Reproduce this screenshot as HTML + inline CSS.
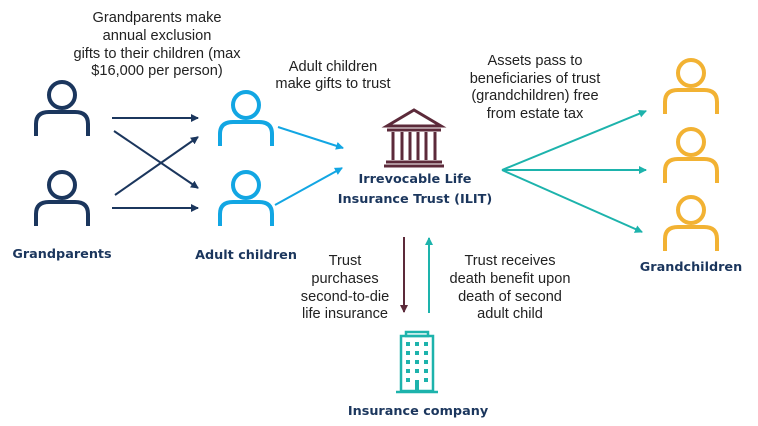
<!DOCTYPE html>
<html><head><meta charset="utf-8"><style>
body{margin:0;background:#fff;width:758px;height:426px;overflow:hidden;font-family:"Liberation Sans",sans-serif}
svg{position:absolute;left:0;top:0}
</style></head><body>
<svg width="758" height="426" viewBox="0 0 758 426">
<defs>
<g id="p" fill="none" stroke-width="4">
<circle cx="0" cy="0" r="13"/>
<path d="M-26,41 V29 Q-26,17 -13,17 H13 Q26,17 26,29 V41"/>
</g>
<marker id="an" markerWidth="8" markerHeight="8" refX="7" refY="4" orient="auto" markerUnits="userSpaceOnUse"><path d="M0,0 L8,4 L0,8z" fill="#1b365d"/></marker>
<marker id="ab" markerWidth="8" markerHeight="8" refX="7" refY="4" orient="auto" markerUnits="userSpaceOnUse"><path d="M0,0 L8,4 L0,8z" fill="#12a6e3"/></marker>
<marker id="at" markerWidth="8" markerHeight="8" refX="7" refY="4" orient="auto" markerUnits="userSpaceOnUse"><path d="M0,0 L8,4 L0,8z" fill="#1db3ac"/></marker>
<marker id="am" markerWidth="8" markerHeight="8" refX="7" refY="4" orient="auto" markerUnits="userSpaceOnUse"><path d="M0,0 L8,4 L0,8z" fill="#5c2a3a"/></marker>
</defs>
<g stroke="#1b365d"><use href="#p" x="62" y="95"/><use href="#p" x="62" y="185"/></g>
<g stroke="#12a6e3"><use href="#p" x="246" y="105"/><use href="#p" x="246" y="185"/></g>
<g stroke="#f2b233"><use href="#p" x="691" y="73"/><use href="#p" x="691" y="142"/><use href="#p" x="691" y="210"/></g>
<g stroke="#1b365d" stroke-width="2" marker-end="url(#an)">
<line x1="112" y1="118" x2="198" y2="118"/><line x1="114" y1="131" x2="198" y2="188"/>
<line x1="115" y1="195" x2="198" y2="137"/><line x1="112" y1="208" x2="198" y2="208"/></g>
<g stroke="#12a6e3" stroke-width="2" marker-end="url(#ab)">
<line x1="278" y1="127" x2="343" y2="148"/><line x1="275" y1="205" x2="342" y2="168"/></g>
<g stroke="#1db3ac" stroke-width="2" marker-end="url(#at)">
<line x1="502" y1="170" x2="646" y2="111"/><line x1="502" y1="170" x2="646" y2="170"/><line x1="502" y1="170" x2="642" y2="232"/>
<line x1="429" y1="313" x2="429" y2="238"/></g>
<line x1="404" y1="237" x2="404" y2="312" stroke="#5c2a3a" stroke-width="2" marker-end="url(#am)"/>
<g stroke="#5c2a3a" stroke-width="3" fill="none">
<path d="M387,126 L414,110 L441,126 Z"/>
<line x1="387" y1="130" x2="441" y2="130"/>
<line x1="393" y1="132" x2="393" y2="160"/><line x1="402" y1="132" x2="402" y2="160"/><line x1="410" y1="132" x2="410" y2="160"/><line x1="418" y1="132" x2="418" y2="160"/><line x1="426" y1="132" x2="426" y2="160"/><line x1="435" y1="132" x2="435" y2="160"/>
<line x1="386" y1="162" x2="442" y2="162"/><line x1="384" y1="166" x2="444" y2="166"/>
</g>
<g stroke="#1db3ac" fill="none" stroke-width="2.5">
<rect x="401" y="336" width="32" height="55"/><rect x="406" y="332" width="22" height="4"/>
<line x1="396" y1="392" x2="438" y2="392"/>
</g>
<g fill="#1db3ac">
<rect x="406" y="342" width="4" height="4"/><rect x="415" y="342" width="4" height="4"/><rect x="424" y="342" width="4" height="4"/>
<rect x="406" y="351" width="4" height="4"/><rect x="415" y="351" width="4" height="4"/><rect x="424" y="351" width="4" height="4"/>
<rect x="406" y="360" width="4" height="4"/><rect x="415" y="360" width="4" height="4"/><rect x="424" y="360" width="4" height="4"/>
<rect x="406" y="369" width="4" height="4"/><rect x="415" y="369" width="4" height="4"/><rect x="424" y="369" width="4" height="4"/>
<rect x="406" y="378" width="4" height="4"/><rect x="424" y="378" width="4" height="4"/><rect x="415" y="380" width="4" height="12"/>
</g>
<g font-family="Liberation Sans,sans-serif" font-size="14.6" fill="#222" text-anchor="middle">
<text x="157" y="22">Grandparents make</text><text x="157" y="40">annual exclusion</text>
<text x="157" y="58">gifts to their children (max</text><text x="157" y="75">$16,000 per person)</text>
<text x="333" y="71">Adult children</text><text x="333" y="88">make gifts to trust</text>
<text x="535" y="65">Assets pass to</text><text x="535" y="83">beneficiaries of trust</text>
<text x="535" y="100">(grandchildren) free</text><text x="535" y="118">from estate tax</text>
<text x="345" y="265">Trust</text><text x="345" y="283">purchases</text><text x="345" y="301">second-to-die</text><text x="345" y="318">life insurance</text>
<text x="510" y="265">Trust receives</text><text x="510" y="283">death benefit upon</text><text x="510" y="301">death of second</text><text x="510" y="318">adult child</text>
</g>
<g font-family="DejaVu Sans,sans-serif" font-weight="bold" font-size="12.8" fill="#1b365d" text-anchor="middle">
<text x="62" y="258">Grandparents</text>
<text x="246" y="259">Adult children</text>
<text x="415" y="183">Irrevocable Life</text>
<text x="415" y="203">Insurance Trust (ILIT)</text>
<text x="691" y="271">Grandchildren</text>
<text x="418" y="415">Insurance company</text>
</g>
</svg>
</body></html>
